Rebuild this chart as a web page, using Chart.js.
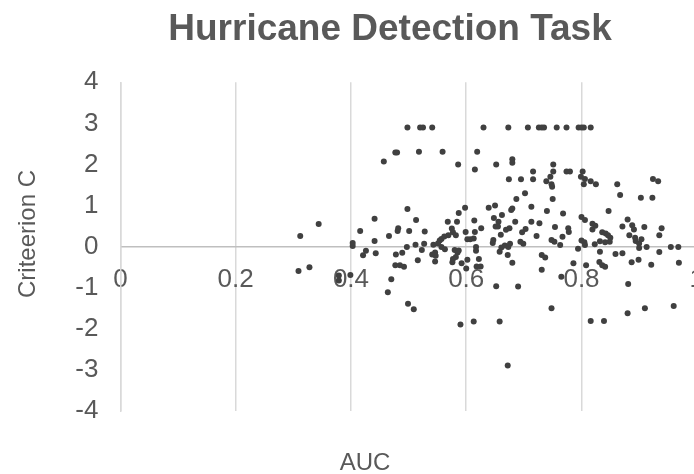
<!DOCTYPE html>
<html>
<head>
<meta charset="utf-8">
<style>
  html, body { margin: 0; padding: 0; background: #ffffff; overflow: hidden; }
  canvas { display: block; }
</style>
<script src="https://cdn.jsdelivr.net/npm/chart.js@4/dist/chart.umd.min.js"></script>
</head>
<body>
<canvas id="c" width="722" height="474"></canvas>
<script>
// Labels
const chartTitle = 'Hurricane Detection Task';
const xAxisTitle = 'AUC';
const yAxisTitle = 'Criteerion C';

// Axis ticks
const xTicks = [0, 0.2, 0.4, 0.6, 0.8, 1];
const yTicks = [-4, -3, -2, -1, 0, 1, 2, 3, 4];

// One entry per participant: area under the ROC curve
const auc = [
  0.309, 0.328, 0.312, 0.344, 0.379, 0.379, 0.399, 0.403, 0.403, 0.416,
  0.421, 0.426, 0.441, 0.441, 0.443, 0.457, 0.464, 0.466, 0.470, 0.477,
  0.480, 0.477, 0.485, 0.492, 0.478, 0.489, 0.481, 0.482, 0.497, 0.498,
  0.498, 0.499, 0.501, 0.509, 0.512, 0.513, 0.516, 0.518, 0.520, 0.525,
  0.523, 0.527, 0.528,
  0.541, 0.630, 0.673, 0.707, 0.726, 0.731, 0.735, 0.757, 0.559, 0.619,
  0.586, 0.615, 0.652, 0.680, 0.680, 0.751, 0.751, 0.716, 0.674, 0.695,
  0.716, 0.739, 0.746, 0.748, 0.749, 0.702, 0.687, 0.750, 0.713, 0.740,
  0.639, 0.650, 0.598, 0.587, 0.678, 0.680, 0.662, 0.648, 0.656, 0.651,
  0.655, 0.614, 0.584, 0.568, 0.685, 0.713, 0.727, 0.754, 0.626, 0.669,
  0.675, 0.703, 0.697, 0.660, 0.615, 0.599, 0.575, 0.577, 0.582, 0.569,
  0.562, 0.557, 0.602, 0.607, 0.613, 0.554, 0.551, 0.647, 0.646, 0.722,
  0.694, 0.658, 0.661, 0.667, 0.673, 0.676, 0.699, 0.748, 0.753, 0.543,
  0.617, 0.617, 0.546, 0.547, 0.546, 0.541, 0.557, 0.563, 0.580, 0.585,
  0.587, 0.577, 0.576, 0.582, 0.592, 0.602, 0.600, 0.622, 0.618, 0.625,
  0.672, 0.680, 0.731, 0.737, 0.731, 0.652, 0.690, 0.748, 0.590, 0.613,
  0.658, 0.672,
  0.774, 0.795, 0.800, 0.804, 0.816, 0.774, 0.780, 0.802, 0.799, 0.806,
  0.804, 0.816, 0.825, 0.862, 0.867, 0.903, 0.923, 0.924, 0.933, 0.847,
  0.768, 0.800, 0.806, 0.819, 0.824, 0.819, 0.777, 0.778, 0.767, 0.836,
  0.842, 0.846, 0.850, 0.849, 0.841, 0.832, 0.823, 0.800, 0.805, 0.806,
  0.794, 0.763, 0.880, 0.871, 0.888, 0.891, 0.909, 0.883, 0.893, 0.894,
  0.900, 0.904, 0.900, 0.913, 0.935, 0.939, 0.955, 0.968, 0.832, 0.786,
  0.808, 0.831, 0.836, 0.841, 0.765, 0.859, 0.871, 0.887, 0.899, 0.921,
  0.935, 0.969, 0.881, 0.816, 0.839, 0.880, 0.910, 0.960
];

// Matching response criterion C for each participant
const criterion = [
  -0.59, -0.50, 0.26, 0.55, -0.70, -0.82, -0.69, 0.09, 0.02, 0.38,
  -0.21, -0.10, 0.14, 0.68, -0.16, 2.07, -1.11, 0.26, -0.79, 2.29,
  2.29, -0.45, -0.45, -0.49, -0.19, -0.15, 0.38, 0.45, -0.01, 0.92,
  2.90, -1.39, 0.38, -1.52, 0.05, 0.65, -0.33, 2.31, 2.90, 2.90,
  -0.08, 0.07, 0.37,
  2.90, 2.90, 2.90, 2.90, 2.90, 2.90, 2.90, 2.90, 2.31, 2.31,
  2.00, 1.88, 2.00, 2.13, 2.04, 2.00, 1.83, 1.83, 1.64, 1.64,
  1.64, 1.59, 1.70, 1.52, 1.46, 1.30, 1.16, 1.16, 0.97, 0.87,
  0.95, 1.00, 0.95, 0.82, 0.89, 0.93, 0.77, 0.70, 0.61, 0.49,
  0.49, 0.64, 0.61, 0.61, 0.61, 0.61, 0.57, 0.48, 0.45, 0.41,
  0.45, 0.43, 0.35, 0.29, 0.36, 0.36, 0.44, 0.35, 0.28, 0.28,
  0.25, 0.19, 0.18, 0.18, 0.20, 0.15, 0.08, 0.16, 0.09, 0.26,
  0.12, -0.12, -0.02, 0.03, -0.01, 0.07, 0.07, 0.16, 0.12, 0.05,
  -0.01, -0.10, -0.14, -0.22, -0.36, -0.19, -0.01, -0.06, -0.08, -0.14,
  -0.09, -0.30, -0.38, -0.25, -0.40, -0.32, -0.53, -0.30, -0.48, -0.48,
  -0.20, -0.39, -0.20, -0.26, -0.56, -0.96, -0.97, -1.50, -1.89, -1.82,
  -1.82, -2.89,
  2.90, 2.90, 2.90, 2.90, 2.90, 1.83, 1.83, 1.83, 1.70, 1.65,
  1.52, 1.59, 1.52, 1.52, 1.26, 1.19, 1.19, 1.65, 1.59, 0.87,
  0.81, 0.72, 0.65, 0.56, 0.51, 0.42, 0.45, 0.36, 0.24, 0.35,
  0.32, 0.28, 0.22, 0.12, 0.11, 0.13, 0.06, 0.15, 0.11, 0.04,
  -0.05, 0.04, 0.66, 0.49, 0.52, 0.42, 0.48, 0.28, 0.22, 0.14,
  0.08, 0.18, -0.03, -0.01, 0.28, 0.45, -0.01, -0.01, -0.12, -0.40,
  -0.45, -0.37, -0.45, -0.49, -0.73, -0.18, -0.16, -0.38, -0.32, -0.44,
  -0.13, -0.39, -0.91, -1.81, -1.81, -1.62, -1.50, -1.44
];

const points = auc.map((a, i) => ({ x: a, y: criterion[i] }));

const FONT = '"Liberation Sans", Arial, Helvetica, sans-serif';
const TEXT = '#595959';
const GRID = '#d9d9d9';

// Chart title and axis titles
const titlesPlugin = {
  id: 'titles',
  afterDraw(chart) {
    const ctx = chart.ctx;
    ctx.save();
    ctx.fillStyle = TEXT;
    ctx.textAlign = 'center';
    ctx.textBaseline = 'alphabetic';
    ctx.font = 'bold 37px ' + FONT;
    ctx.fillText(chartTitle, 390, 40);
    ctx.font = '24px ' + FONT;
    ctx.fillText(xAxisTitle, 365, 470);
    ctx.translate(35, 234);
    ctx.rotate(-Math.PI / 2);
    ctx.fillText(yAxisTitle, 0, 0);
    ctx.restore();
  }
};

new Chart(document.getElementById('c'), {
  type: 'scatter',
  data: {
    datasets: [{
      data: points,
      backgroundColor: '#404040',
      borderWidth: 0,
      pointRadius: 3,
      pointHoverRadius: 3
    }]
  },
  options: {
    responsive: false,
    animation: false,
    events: [],
    layout: { padding: { top: 82.3, bottom: 62.9, left: 0, right: 8 } },
    plugins: { legend: { display: false }, tooltip: { enabled: false }, title: { display: false } },
    scales: {
      x: {
        type: 'linear',
        min: 0,
        max: 1,
        position: { y: 0 },
        afterBuildTicks(scale) { scale.ticks = xTicks.map(v => ({ value: v })); },
        ticks: {
          color: TEXT,
          font: { family: FONT, size: 26 },
          padding: 18,
          maxRotation: 0,
          autoSkip: false,
          callback: v => String(v)
        },
        grid: { color: GRID, lineWidth: 1.5, drawTicks: false },
        border: { display: true, color: '#bfbfbf', width: 1.5 }
      },
      y: {
        type: 'linear',
        min: -4,
        max: 4,
        afterBuildTicks(scale) { scale.ticks = yTicks.map(v => ({ value: v })); },
        afterFit(scale) { scale.width = 120.4; },
        ticks: {
          color: TEXT,
          font: { family: FONT, size: 26 },
          padding: 22,
          autoSkip: false,
          callback: v => String(v)
        },
        grid: { display: false, drawTicks: false },
        border: { display: true, color: GRID, width: 1.5 }
      }
    }
  },
  plugins: [titlesPlugin]
});
</script>
</body>
</html>
